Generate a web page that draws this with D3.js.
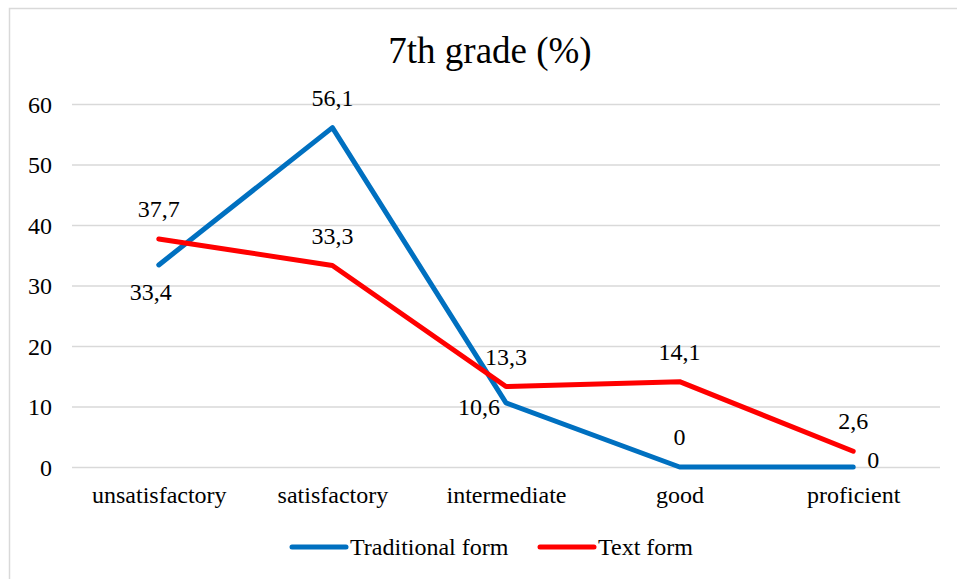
<!DOCTYPE html>
<html>
<head>
<meta charset="utf-8">
<script src="https://cdn.jsdelivr.net/npm/d3@7"></script>
<style>
    body { margin: 0; background: #fff; }
</style>
</head>
<body>
<div id="chart"></div>
<script>
const categories = ["unsatisfactory", "satisfactory", "intermediate", "good", "proficient"];
const traditionalValues = [33.4, 56.1, 10.6, 0, 0];
const textValues = [37.7, 33.3, 13.3, 14.1, 2.6];
const yTicks = [0, 10, 20, 30, 40, 50, 60];
const chartTitle = "7th grade (%)";

// where each data label sits relative to its point
const traditionalLabelPos = ["below", "above", "left", "above", "right"];
const textLabelPos = ["above", "above", "above", "above", "above"];

const series = [
    { name: "Traditional form", values: traditionalValues, labelPos: traditionalLabelPos, color: "#0070C0" },
    { name: "Text form", values: textValues, labelPos: textLabelPos, color: "#FF0000" }
];

const FONT = "'Liberation Serif', 'Times New Roman', Tinos, serif";

/**
 * Zeichnet das Liniendiagramm
 */
function drawChart() {
    const width = 957;
    const height = 579;
    const left = 72, right = 940, top = 104, bottom = 467;

    const svg = d3.select("#chart")
        .append("svg")
        .attr("width", width)
        .attr("height", height)
        .style("font-family", FONT);

    // chart area border (right and bottom edges lie outside the picture)
    svg.append("rect")
        .attr("x", 9.5)
        .attr("y", 8.5)
        .attr("width", 1000)
        .attr("height", 1000)
        .attr("fill", "none")
        .attr("stroke", "#d9d9d9")
        .attr("stroke-width", 1.5);

    svg.append("text")
        .attr("x", 490)
        .attr("y", 63)
        .attr("text-anchor", "middle")
        .style("font-family", FONT)
        .style("font-size", "37px")
        .text(chartTitle);

    const x = d3.scalePoint()
        .domain(categories)
        .range([left, right])
        .padding(0.5);

    const y = d3.scaleLinear()
        .domain([0, 60])
        .range([bottom, top]);

    // gridlines + y labels
    const yAxis = d3.axisLeft(y)
        .tickValues(yTicks)
        .tickSize(-(right - left))
        .tickPadding(20)
        .tickFormat(d3.format("d"));

    const yG = svg.append("g")
        .attr("transform", `translate(${left},0)`)
        .call(yAxis);
    yG.select(".domain").remove();
    yG.selectAll(".tick line")
        .attr("stroke", "#d9d9d9")
        .attr("stroke-width", 1.5);
    yG.selectAll(".tick text")
        .attr("x", 52 - left)
        .attr("dy", "0.35em")
        .style("font-family", FONT)
        .style("font-size", "24px")
        .attr("fill", "#000");

    // category labels
    const xAxis = d3.axisBottom(x).tickSize(0).tickPadding(0);
    const xG = svg.append("g")
        .attr("transform", `translate(0,${bottom})`)
        .call(xAxis);
    xG.select(".domain").remove();
    xG.selectAll(".tick text")
        .attr("y", 36)
        .attr("dy", 0)
        .style("font-family", FONT)
        .style("font-size", "24px")
        .attr("fill", "#000");

    const line = d3.line()
        .x((d, i) => x(categories[i]))
        .y(d => y(d));

    series.forEach(s => {
        svg.append("path")
            .datum(s.values)
            .attr("d", line)
            .attr("fill", "none")
            .attr("stroke", s.color)
            .attr("stroke-width", 5)
            .attr("stroke-linecap", "round")
            .attr("stroke-linejoin", "round");
    });

    // data labels
    const fmt = v => String(v).replace(".", ",");
    series.forEach(s => {
        s.values.forEach((v, i) => {
            const px = x(categories[i]);
            const py = y(v);
            const pos = s.labelPos[i];
            const t = svg.append("text")
                .style("font-family", FONT)
                .style("font-size", "24px")
                .attr("fill", "#000")
                .text(fmt(v));
            if (pos === "above") {
                t.attr("x", px).attr("y", py - 22).attr("text-anchor", "middle");
            } else if (pos === "below") {
                t.attr("x", px - 8).attr("y", py + 35).attr("text-anchor", "middle");
            } else if (pos === "left") {
                t.attr("x", px - 6).attr("y", py + 12).attr("text-anchor", "end");
            } else {
                t.attr("x", px + 14).attr("y", py + 1).attr("text-anchor", "start");
            }
        });
    });

    // legend
    const legendItems = [
        { x: 292, s: series[0] },
        { x: 540, s: series[1] }
    ];
    legendItems.forEach(item => {
        const g = svg.append("g").attr("transform", `translate(${item.x},547)`);
        g.append("line")
            .attr("x1", 0).attr("x2", 54)
            .attr("y1", 0).attr("y2", 0)
            .attr("stroke", item.s.color)
            .attr("stroke-width", 5)
            .attr("stroke-linecap", "round");
        g.append("text")
            .attr("x", 58)
            .attr("y", 8)
            .style("font-family", FONT)
            .style("font-size", "24px")
            .attr("fill", "#000")
            .text(item.s.name);
    });
}

drawChart();
</script>
</body>
</html>
